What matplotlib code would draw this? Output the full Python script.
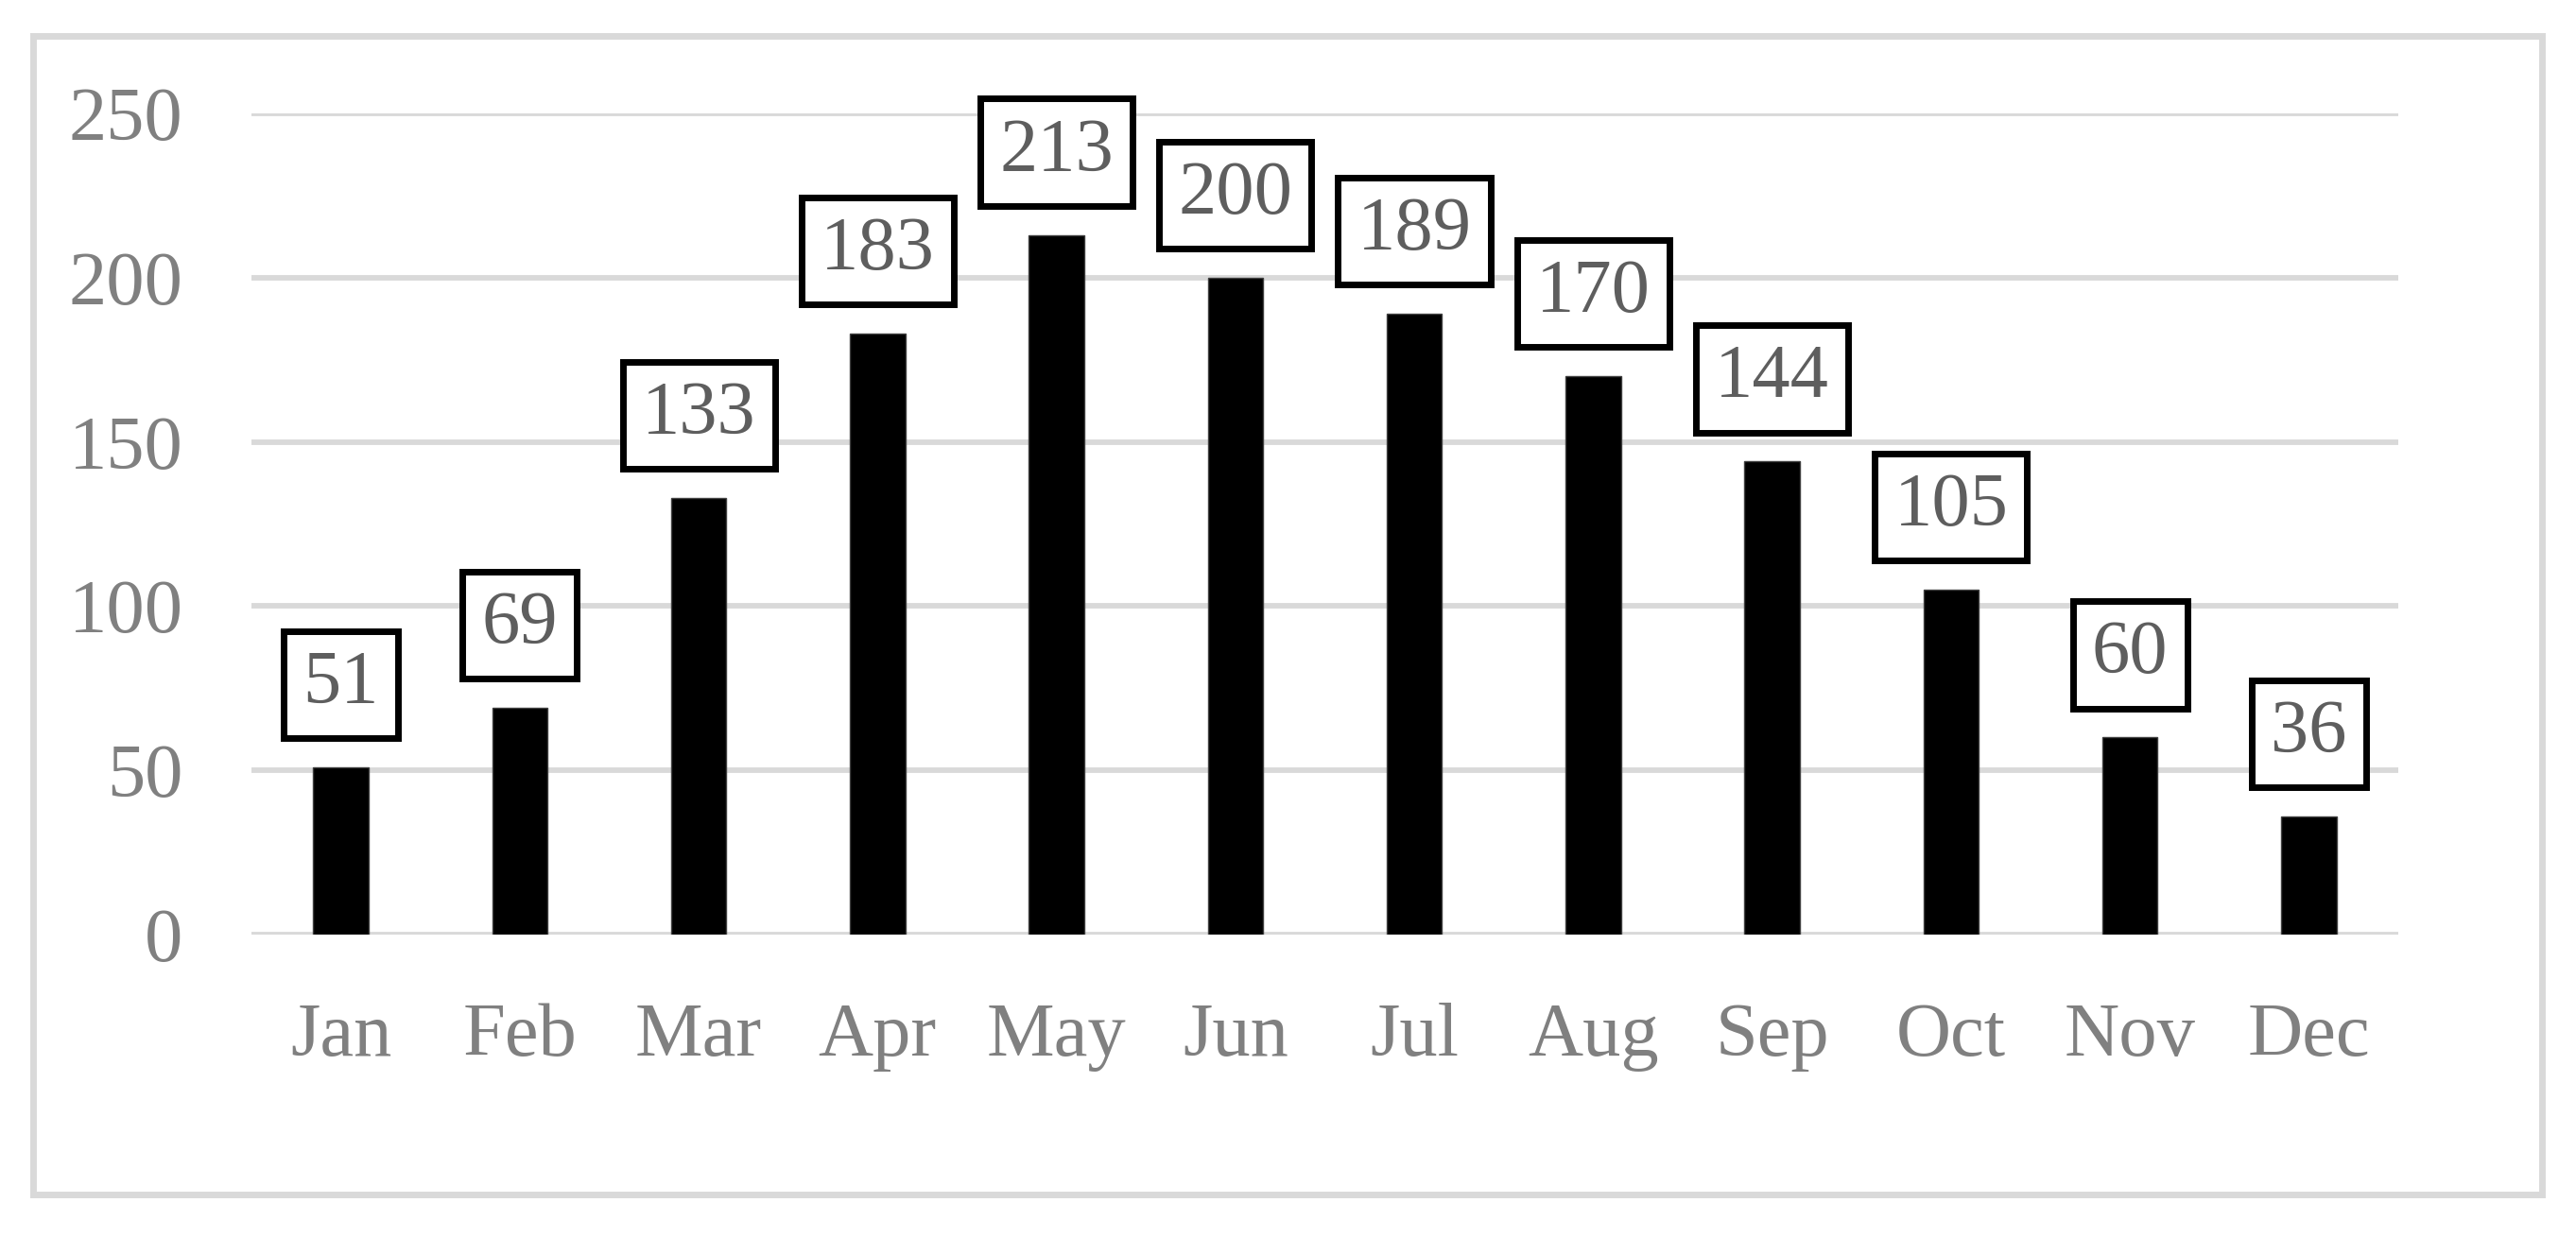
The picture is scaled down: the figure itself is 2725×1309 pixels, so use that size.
import matplotlib
matplotlib.use('Agg')
import matplotlib.pyplot as plt
from matplotlib.patches import FancyBboxPatch

months = ['Jan', 'Feb', 'Mar', 'Apr', 'May', 'Jun', 'Jul', 'Aug', 'Sep', 'Oct', 'Nov', 'Dec']
values = [51, 69, 133, 183, 213, 200, 189, 170, 144, 105, 60, 36]
yticks = [0, 50, 100, 150, 200, 250]

plt.rcParams['font.family'] = ['Liberation Serif', 'DejaVu Serif']

GRID = '#D9D9D9'
TICK_C = '#808080'
LABEL_C = '#5E5E5E'
FS = 58

fig = plt.figure(figsize=(27.25, 13.09), dpi=100)
ax = fig.add_axes([0.0976, 0.2445, 0.8334, 0.6638])

x = list(range(len(months)))
ax.bar(x, values, width=0.31, color='black', edgecolor='#404040', linewidth=1, zorder=3)

ax.set_xlim(-0.5, len(months) - 0.5)
ax.set_ylim(0, 250)
ax.set_yticks(yticks)
ax.set_xticks(x)
ax.set_xticklabels(months)
ax.yaxis.grid(True, color=GRID, linewidth=4.2, zorder=0)
ax.set_axisbelow(True)
for s in ax.spines.values():
    s.set_visible(False)
ax.tick_params(axis='both', length=0, labelsize=FS, labelcolor=TICK_C)
ax.tick_params(axis='y', pad=52)
ax.tick_params(axis='x', pad=52)

# boxed value labels above each bar
for xi, v in zip(x, values):
    ax.annotate(str(v), xy=(xi, v), xytext=(0, 63), textcoords='offset points',
                ha='center', va='center', fontsize=FS, color=LABEL_C,
                bbox=dict(boxstyle='square,pad=0.25', fc='white', ec='black', lw=5),
                zorder=5, annotation_clip=False)

# outer light border of the chart area
fig.patches.append(FancyBboxPatch((35 / 2725, 1 - 1264 / 1309), (2689 - 35) / 2725,
                                  (1264 - 38) / 1309, boxstyle='square,pad=0',
                                  transform=fig.transFigure, fill=False,
                                  ec=GRID, lw=5))

fig.savefig('out.png', dpi=100)
